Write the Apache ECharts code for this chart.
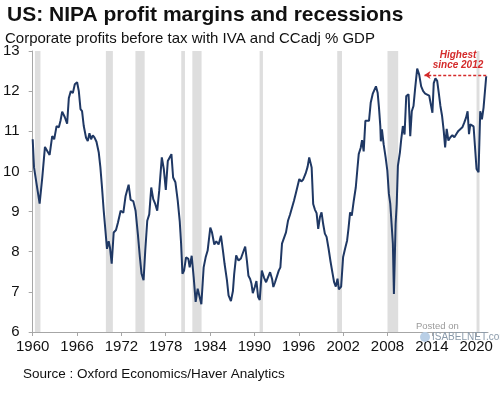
<!DOCTYPE html>
<html>
<head>
<meta charset="utf-8">
<script src="https://cdn.jsdelivr.net/npm/echarts@6/dist/echarts.min.js"></script>
<style>html,body{margin:0;padding:0;background:#fff;}#c{width:500px;height:394px;}</style>
</head>
<body>
<div id="c"></div>
<script>
// Data (decimal year, % of GDP)
const years = [
1960.0,1960.18,1960.94,1961.3,1961.66,1961.97,1962.29,1962.64,1962.91,1963.23,1963.54,1963.77,1963.99,
1964.35,1964.66,1964.89,1965.16,1965.43,1965.7,1966.01,1966.24,1966.47,1966.68,1966.91,1967.22,1967.45,
1967.68,1967.9,1968.13,1968.35,1968.63,1968.94,1969.16,1969.38,1969.61,1969.84,1970.05,1970.28,1970.46,
1970.69,1970.96,1971.27,1971.54,1971.9,1972.26,1972.57,1972.98,1973.25,1973.61,1973.92,1974.23,1974.5,
1974.73,1975.0,1975.23,1975.5,1975.77,1976.04,1976.31,1976.58,1976.85,1977.12,1977.47,1977.74,1978.01,
1978.28,1978.55,1978.77,1979.0,1979.31,1979.62,1979.89,1980.08,1980.26,1980.48,1980.75,1981.06,1981.24,
1981.51,1981.78,1982.05,1982.32,1982.59,1982.82,1983.13,1983.4,1983.67,1984.03,1984.26,1984.57,1984.84,
1985.15,1985.47,1985.74,1985.96,1986.28,1986.5,1986.82,1987.09,1987.26,1987.53,1987.85,1988.17,1988.44,
1988.75,1988.98,1989.19,1989.42,1989.6,1989.78,1990.05,1990.27,1990.5,1990.72,1991.0,1991.31,1991.58,
1991.85,1992.12,1992.39,1992.56,1992.79,1993.02,1993.29,1993.51,1993.73,1994.0,1994.27,1994.54,1994.81,
1995.08,1995.35,1995.62,1995.89,1996.07,1996.34,1996.6,1996.93,1997.2,1997.41,1997.74,1997.95,1998.18,
1998.41,1998.63,1998.86,1999.08,1999.3,1999.53,1999.76,2000.03,2000.3,2000.57,2000.78,2001.01,2001.24,
2001.42,2001.73,2002.0,2002.27,2002.54,2002.72,2002.94,2003.17,2003.44,2003.71,2003.93,2004.11,2004.38,
2004.56,2004.78,2005.01,2005.28,2005.5,2005.73,2006.0,2006.23,2006.44,2006.67,2006.85,2007.03,2007.1,
2007.25,2007.48,2007.75,2007.98,2008.19,2008.38,2008.56,2008.73,2008.87,2009.1,2009.25,2009.41,2009.68,
2009.86,2010.08,2010.31,2010.54,2010.85,2011.08,2011.29,2011.52,2011.75,2012.02,2012.29,2012.56,2012.83,
2013.1,2013.37,2013.64,2013.91,2014.08,2014.26,2014.49,2014.72,2014.93,2015.16,2015.39,2015.61,2015.8,
2016.01,2016.24,2016.51,2016.78,2017.05,2017.32,2017.59,2017.86,2018.13,2018.4,2018.63,2018.84,2019.03,
2019.2,2019.43,2019.65,2019.88,2020.05,2020.32,2020.55,2020.78,2021.0,2021.36
];
const margins = [
10.80,10.10,9.20,9.85,10.61,10.51,10.41,10.88,10.80,11.13,11.10,11.27,11.49,
11.35,11.19,11.83,12.00,11.95,12.17,12.22,12.00,11.55,11.50,11.13,10.84,10.76,
10.95,10.80,10.90,10.85,10.74,10.47,10.10,9.60,9.02,8.53,8.07,8.26,8.10,
7.70,8.48,8.54,8.73,9.02,8.97,9.39,9.67,9.29,9.26,9.02,8.44,7.87,
7.45,7.29,8.03,8.77,8.93,9.60,9.31,9.19,9.02,9.52,10.35,10.06,9.54,
10.26,10.30,10.43,9.85,9.73,9.28,8.77,8.20,7.45,7.53,7.86,7.82,7.61,
7.90,7.37,6.75,7.08,6.87,6.69,7.61,7.86,8.03,8.60,8.48,8.18,8.26,
8.18,8.40,8.03,7.70,7.29,6.91,6.77,7.02,7.44,7.91,7.78,7.83,7.86,
8.13,7.78,7.40,7.32,7.20,6.97,7.12,7.27,6.87,6.80,7.53,7.35,7.24,
7.22,7.49,7.32,7.12,7.24,7.20,7.53,7.61,8.20,8.24,8.48,8.77,8.92,
8.90,9.27,9.47,9.50,9.81,9.75,9.80,9.95,10.12,10.35,10.10,9.19,9.05,
8.96,8.57,8.86,8.98,8.69,8.45,8.37,8.08,7.75,7.46,7.24,7.13,7.33,
7.06,7.13,7.87,8.08,8.28,8.57,8.98,8.90,9.27,9.60,10.06,10.43,10.59,
10.78,10.50,11.26,11.27,11.26,11.71,11.93,11.96,12.12,11.96,11.59,11.13,10.75,
11.05,10.68,10.35,10.02,9.44,9.19,9.19,8.20,6.95,8.69,9.19,10.14,10.47,
10.80,11.13,10.92,11.88,11.92,10.88,11.50,11.63,12.08,12.56,12.41,12.12,12.00,
11.94,11.94,11.89,11.88,11.46,12.20,12.32,12.26,11.97,11.63,11.38,11.01,10.60,
11.06,10.77,10.85,10.90,10.85,10.93,11.01,11.04,11.10,11.22,11.34,11.50,10.93,
11.17,11.13,11.12,11.10,10.06,9.98,11.50,11.30,11.59,12.37
];
// Recessions (start, end in decimal years)
const recStart = [1960.3, 1969.9, 1973.9, 1980.1, 1981.6, 1990.7, 2001.2, 2008.0, 2020.05];
const recEnd   = [1961.05, 1970.85, 1975.15, 1980.6, 1982.85, 1991.15, 2001.85, 2009.45, 2020.45];
// Axis ticks
const xTicks = [1960, 1966, 1972, 1978, 1984, 1990, 1996, 2002, 2008, 2014, 2020];
const yTicks = [6, 7, 8, 9, 10, 11, 12, 13];
// Annotation: "Highest since 2012"
const annoLevel = 12.40;
const annoFrom = 2021.36;
const annoTo = 2013.0;

const yMin = yTicks[0], yMax = yTicks[yTicks.length - 1];

const chart = echarts.init(document.getElementById('c'), null, {renderer: 'canvas'});
const font = "'Liberation Sans', Arial, sans-serif";

chart.setOption({
  animation: false,
  backgroundColor: '#ffffff',
  title: [
    {text: 'US: NIPA profit margins and recessions', left: 7, top: 5, padding: 0,
     textStyle: {fontFamily: font, fontSize: 21, fontWeight: 'bold', color: '#111'}},
    {text: 'Corporate profits before tax with IVA and CCadj % GDP', left: 5, top: 31, padding: 0,
     textStyle: {fontFamily: font, fontSize: 15, fontWeight: 'normal', color: '#111'}},
    {text: 'Source : Oxford Economics/Haver Analytics', left: 23, top: 367, padding: 0,
     textStyle: {fontFamily: font, fontSize: 13.5, fontWeight: 'normal', color: '#111'}}
  ],
  grid: {left: 32, right: 12, top: 51, bottom: 62, containLabel: false},
  xAxis: {
    type: 'value', min: 1960, max: 2021.6,
    axisLine: {show: true, lineStyle: {color: '#a6a6a6', width: 1}},
    axisTick: {show: true, length: 4, customValues: xTicks, lineStyle: {color: '#a6a6a6'}},
    axisLabel: {customValues: xTicks, margin: 7, fontFamily: font, fontSize: 15, color: '#111',
                formatter: v => String(Math.round(v))},
    splitLine: {show: false}
  },
  yAxis: {
    type: 'value', min: yMin, max: yMax, interval: 1,
    axisLine: {show: true, lineStyle: {color: '#a6a6a6', width: 1}},
    axisTick: {show: true, length: 4, lineStyle: {color: '#a6a6a6'}},
    axisLabel: {margin: 13, fontFamily: font, fontSize: 15, color: '#111'},
    splitLine: {show: false}
  },
  series: [
    {
      type: 'custom', z: 1, silent: true,
      data: recStart.map((s, i) => [s, recEnd[i], yMax, yMin]),
      encode: {x: [0, 1], y: [2, 3]},
      renderItem: (params, api) => {
        const p0 = api.coord([api.value(0), api.value(2)]);
        const p1 = api.coord([api.value(1), api.value(3)]);
        return {type: 'rect', shape: {x: p0[0], y: p0[1], width: p1[0] - p0[0], height: p1[1] - p0[1]},
                style: {fill: '#dedede'}};
      }
    },
    {
      type: 'line', z: 3,
      data: years.map((y, i) => [y, margins[i]]),
      showSymbol: false, symbol: 'none',
      lineStyle: {color: '#1f3864', width: 2},
      markLine: {
        silent: true, animation: false,
        symbolSize: [6, 6],
        lineStyle: {color: '#d42a2a', type: [3, 2], width: 1.3},
        label: {show: false},
        data: [[
          {coord: [annoFrom, annoLevel], symbol: 'none'},
          {coord: [annoTo, annoLevel], symbol: 'arrow'}
        ]]
      }
    }
  ],
  graphic: [
    {type: 'text', x: 458, y: 50, z: 10,
     style: {text: 'Highest', textAlign: 'center', font: "italic bold 10px 'Liberation Sans', Arial, sans-serif", fill: '#d42a2a'}},
    {type: 'text', x: 458, y: 60, z: 10,
     style: {text: 'since 2012', textAlign: 'center', font: "italic bold 10px 'Liberation Sans', Arial, sans-serif", fill: '#d42a2a'}},
    {type: 'text', left: 416, top: 321, z: 10,
     style: {text: 'Posted on', font: "9.5px 'Liberation Sans', Arial, sans-serif", fill: '#9a9a9a'}},
    {type: 'circle', shape: {cx: 425, cy: 337, r: 5}, z: 9, style: {fill: '#b9cfe6'}},
    {type: 'text', left: 432, top: 332, z: 10,
     style: {text: 'ISABELNET.com', font: "10px 'Liberation Sans', Arial, sans-serif", fill: '#8a9aaa'}}
  ]
});
</script>
</body>
</html>
